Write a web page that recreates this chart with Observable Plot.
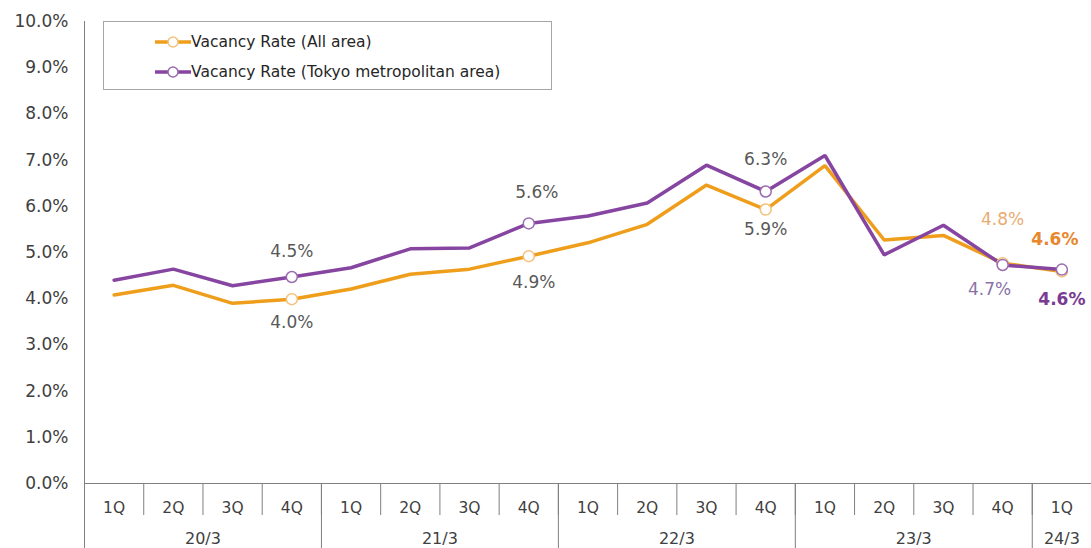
<!DOCTYPE html>
<html><head><meta charset="utf-8">
<script src="https://cdn.jsdelivr.net/npm/d3@7"></script>
<script src="https://cdn.jsdelivr.net/npm/@observablehq/plot@0.6"></script>
<style>
body{margin:0;background:#fff;font-family:"DejaVu Sans",sans-serif;}
#wrap{position:relative;width:1091px;height:548px;overflow:hidden;}
#legend{position:absolute;left:103px;top:21px;width:449px;height:69px;border:1px solid #a6a6a6;background:#fff;box-sizing:border-box;}
.row{position:absolute;left:51px;display:flex;align-items:center;font-size:15.5px;color:#262626;height:20px;}
.row svg{display:block;}
</style></head><body>
<div id="wrap"><div id="chart"></div><div id="legend"></div></div>
<script>
const quarters = ["1Q","2Q","3Q","4Q","1Q","2Q","3Q","4Q","1Q","2Q","3Q","4Q","1Q","2Q","3Q","4Q","1Q"];
const fiscalYears = ["20/3","21/3","22/3","23/3","24/3"];
const fiscalYearOfQuarter = [0,0,0,0,1,1,1,1,2,2,2,2,3,3,3,3,4];
const allArea = [4.08,4.29,3.90,3.99,4.21,4.53,4.64,4.92,5.21,5.61,6.46,5.93,6.88,5.27,5.37,4.77,4.59];
const tokyoArea = [4.40,4.64,4.28,4.47,4.67,5.08,5.10,5.63,5.79,6.07,6.89,6.32,7.10,4.95,5.59,4.73,4.63];
const markedQuarters = [3,7,11,15,16];
const yTicks = [0,1,2,3,4,5,6,7,8,9,10];
const seriesNames = ["Vacancy Rate (All area)","Vacancy Rate (Tokyo metropolitan area)"];

const ORANGE = "#EE9E1A", PURPLE = "#8645A0";
const data = quarters.map((q,i)=>({i, q, fy: fiscalYears[fiscalYearOfQuarter[i]], all: allArea[i], tokyo: tokyoArea[i]}));
const idx = data.map(d=>d.i);
const qBounds = idx.slice(1).map(i=>i-0.5);
const yBounds = [-0.5, ...idx.slice(1).filter(i=>fiscalYearOfQuarter[i]!==fiscalYearOfQuarter[i-1]).map(i=>i-0.5)];
const yCenters = fiscalYears.map((fy,k)=>d3.mean(idx.filter(i=>fiscalYearOfQuarter[i]===k)));
const marked = data.filter(d=>markedQuarters.includes(d.i));
const pick = (arr) => data.filter(d=>arr.includes(d.i));
const fmt = v => v.toFixed(1)+"%";
const LBL = {fontSize:17, fill:"#595959"};

const chart = Plot.plot({
  width:1091, height:548,
  marginLeft:84, marginRight:0, marginTop:21, marginBottom:65,
  x:{domain:[-0.5,16.5], axis:null},
  y:{domain:[0,10], axis:null},
  style:{fontFamily:"DejaVu Sans", background:"white", overflow:"visible"},
  marks:[
    Plot.axisY(yTicks,{label:null, tickSize:0, tickPadding:16, tickFormat:d=>d.toFixed(1)+"%", fontSize:17, color:"#404040"}),
    Plot.axisX(qBounds,{label:null, tickSize:32, tickFormat:()=>"", stroke:"#7f7f7f"}),
    Plot.axisX(yBounds,{label:null, tickSize:65, tickFormat:()=>"", stroke:"#7f7f7f"}),
    Plot.axisX(idx,{label:null, tickSize:0, tickPadding:18, tickFormat:i=>quarters[i], fontSize:15.5, color:"#404040"}),
    Plot.axisX(yCenters,{label:null, tickSize:0, tickPadding:49, tickFormat:(d,k)=>fiscalYears[k], fontSize:16, color:"#404040"}),
    Plot.ruleX([-0.5],{stroke:"#7f7f7f"}),
    Plot.ruleY([0],{stroke:"#7f7f7f"}),
    Plot.line(data,{x:"i", y:"all", stroke:ORANGE, strokeWidth:3.5, strokeLinejoin:"miter"}),
    Plot.line(data,{x:"i", y:"tokyo", stroke:PURPLE, strokeWidth:3.5, strokeLinejoin:"miter"}),
    Plot.dot(marked,{x:"i", y:"all", r:5.5, fill:"white", stroke:"#F3C27A", strokeWidth:1.5}),
    Plot.dot(marked,{x:"i", y:"tokyo", r:5.5, fill:"white", stroke:"#9B6BB0", strokeWidth:1.5}),
    Plot.text(pick([3]),{x:"i", y:"tokyo", text:d=>fmt(d.tokyo), dy:-25, ...LBL}),
    Plot.text(pick([7]),{x:"i", y:"tokyo", text:d=>fmt(d.tokyo), dx:8, dy:-31, ...LBL}),
    Plot.text(pick([11]),{x:"i", y:"tokyo", text:d=>fmt(d.tokyo), dy:-32, ...LBL}),
    Plot.text(pick([3]),{x:"i", y:"all", text:d=>fmt(d.all), dy:23, ...LBL}),
    Plot.text(pick([7]),{x:"i", y:"all", text:d=>fmt(d.all), dx:5, dy:26, ...LBL}),
    Plot.text(pick([11]),{x:"i", y:"all", text:d=>fmt(d.all), dy:20, ...LBL}),
    Plot.text(pick([15]),{x:"i", y:"all", text:d=>fmt(d.all), dy:-44, fontSize:17, fill:"#E9AB72"}),
    Plot.text(pick([15]),{x:"i", y:"tokyo", text:d=>fmt(d.tokyo), dx:-13, dy:25, fontSize:17, fill:"#8A72A6"}),
    Plot.text(pick([16]),{x:"i", y:"all", text:d=>fmt(d.all), dx:-7, dy:-32, fontSize:17, fontWeight:"bold", fill:"#E8872E"}),
    Plot.text(pick([16]),{x:"i", y:"tokyo", text:d=>fmt(d.tokyo), dy:30, fontSize:17, fontWeight:"bold", fill:"#7A3B93"})
  ]
});
document.getElementById("chart").appendChild(chart);

const legend = document.getElementById("legend");
const swatch = (c, cs) => `<svg width="36" height="12"><line x1="0" y1="6" x2="36" y2="6" stroke="${c}" stroke-width="3.5"/><circle cx="18" cy="6" r="5" fill="white" stroke="${cs}" stroke-width="1.5"/></svg>`;
[[ORANGE,"#F3C27A"],[PURPLE,"#9B6BB0"]].forEach(([c,cs],k)=>{
  const row = document.createElement("div");
  row.className="row";
  row.style.top = (k===0 ? 10 : 40) + "px";
  row.innerHTML = swatch(c,cs) + `<span>${seriesNames[k]}</span>`;
  legend.appendChild(row);
});
</script>
</body></html>
